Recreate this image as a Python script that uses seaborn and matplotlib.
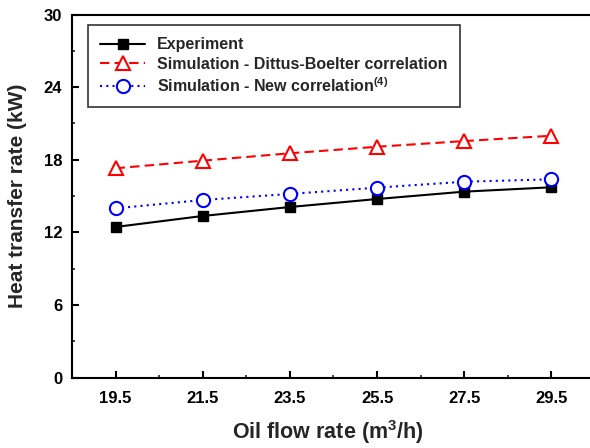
import matplotlib
matplotlib.use("Agg")
import matplotlib.pyplot as plt
from matplotlib.ticker import MultipleLocator, FixedLocator
import seaborn as sns

# data
flow_rate = [19.5, 21.5, 23.5, 25.5, 27.5, 29.5]
experiment = [12.44, 13.35, 14.09, 14.75, 15.36, 15.72]
sim_dittus = [17.29, 17.92, 18.53, 19.07, 19.54, 19.98]
sim_new = [13.98, 14.67, 15.17, 15.69, 16.18, 16.38]

x_ticks = [19.5, 21.5, 23.5, 25.5, 27.5, 29.5]
x_minor = [20.5, 22.5, 24.5, 26.5, 28.5]
y_ticks = [0, 6, 12, 18, 24, 30]

sns.set_theme(style="ticks")
plt.rcParams["font.family"] = ["Liberation Sans", "DejaVu Sans"]
plt.rcParams["font.weight"] = "bold"
plt.rcParams["mathtext.fontset"] = "custom"
plt.rcParams["mathtext.rm"] = "Liberation Sans:bold"
plt.rcParams["mathtext.bf"] = "Liberation Sans:bold"

fig = plt.figure(figsize=(5.9, 4.48), dpi=100)
ax = fig.add_axes([72 / 590, 70.5 / 448, 523 / 590, 363 / 448])

sns.lineplot(x=flow_rate, y=experiment, ax=ax, color="black", linewidth=1.5,
             marker="s", markersize=7.5, markerfacecolor="black",
             markeredgecolor="black", markeredgewidth=1,
             label="Experiment")
sns.lineplot(x=flow_rate, y=sim_dittus, ax=ax, color="red", linewidth=1.5,
             linestyle=(0, (4.5, 2.5)), marker="^", markersize=10,
             markerfacecolor="white", markeredgecolor="red", markeredgewidth=1.5,
             label="Simulation - Dittus-Boelter correlation")
sns.lineplot(x=flow_rate, y=sim_new, ax=ax, color="blue", linewidth=1.5,
             linestyle=(0, (1, 2)), marker="o", markersize=9.5,
             markerfacecolor="white", markeredgecolor="blue", markeredgewidth=1.5,
             label=r"Simulation - New correlation$^{\mathbf{(4)}}$")

ax.set_xlim(18.5, 30.5)
ax.set_ylim(0, 30)
ax.xaxis.set_major_locator(FixedLocator(x_ticks))
ax.xaxis.set_minor_locator(FixedLocator(x_minor))
ax.yaxis.set_major_locator(FixedLocator(y_ticks))
ax.yaxis.set_minor_locator(MultipleLocator(3))
ax.tick_params(which="major", direction="in", length=5, width=1.5,
               labelsize=12, colors="black")
ax.tick_params(axis="x", which="major", pad=9.5)
ax.tick_params(axis="y", which="major", pad=7)
ax.tick_params(which="minor", direction="in", length=2.5, width=1.2)
for lbl in ax.get_xticklabels() + ax.get_yticklabels():
    lbl.set_fontweight("bold")

for side in ["left", "bottom", "top", "right"]:
    ax.spines[side].set_linewidth(1.5)
    ax.spines[side].set_color("black")

ax.set_xlabel(r"Oil flow rate (m$^{3}$/h)", fontsize=15.5, fontweight="bold")
ax.set_ylabel("Heat transfer rate (kW)", fontsize=15, fontweight="bold")
ax.xaxis.set_label_coords(0.49, -0.112)
ax.yaxis.set_label_coords(-0.086, 0.5)

leg = ax.legend(loc="upper left", bbox_to_anchor=(88 / 590, 1 - 25 / 448),
                bbox_transform=fig.transFigure, borderaxespad=0,
                fontsize=11.5, frameon=True, fancybox=False, edgecolor="black",
                handlelength=2.8, labelspacing=0.27, borderpad=0.78,
                handletextpad=0.75)
leg.get_frame().set_linewidth(1.2)
for t in leg.get_texts():
    t.set_fontweight("bold")

fig.savefig("out.png", dpi=100)
